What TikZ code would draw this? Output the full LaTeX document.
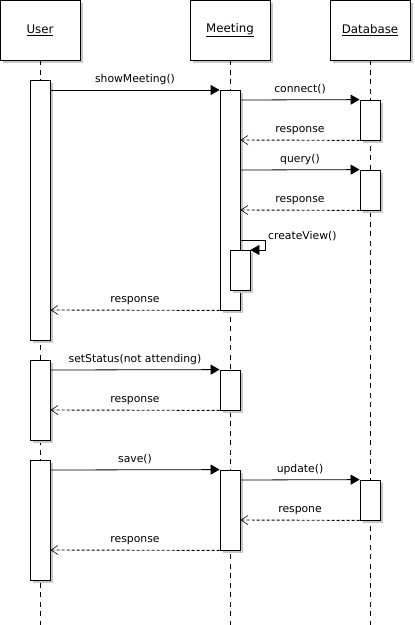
\documentclass[tikz,border=0pt]{standalone}
\usepackage{fontspec}
\setmainfont{DejaVu Sans}
\usetikzlibrary{arrows.meta,shadows}
\definecolor{shade}{HTML}{C8C8C8}
\tikzset{
  x=1pt, y=-1pt,
  every node/.style={font=\fontsize{10.8}{13}\selectfont},
  sh/.style={drop shadow={shadow xshift=3pt, shadow yshift=-3pt, fill=shade, opacity=1}},
  header/.style={draw, fill=white, sh, minimum width=80pt, minimum height=60pt, inner sep=0pt, line width=0.8pt, font=\fontsize{11.8}{14}\selectfont},
  act/.style={draw, fill=white, sh, minimum width=20pt, inner sep=0pt, line width=0.8pt},
  lifeline/.style={line width=0.8pt, dash pattern=on 5pt off 4.5pt},
  msg/.style={line width=0.8pt, -{Triangle[length=9pt, width=10pt]}},
  reply/.style={line width=0.9pt, dash pattern=on 3pt off 2pt, -{Straight Barb[length=7pt, width=9pt, line width=0.6pt]}},
  lbl/.style={inner sep=0pt, anchor=base}
}
\begin{document}
\begin{tikzpicture}
\useasboundingbox (0,0) rectangle (415,625);

% participants
\node[header] (user) at (40,30) {\underline{User}};
\node[header] (meet) at (230,30) {\underline{Meeting}};
\node[header] (db)   at (370,30) {\underline{Database}};

% lifelines
\coordinate (uend) at (40,625);
\coordinate (mend) at (230,625);
\coordinate (dend) at (370,625);
\draw[lifeline] (user.south) -- (uend);
\draw[lifeline] (meet.south) -- (mend);
\draw[lifeline] (db.south) -- (dend);

% activations
\node[act, minimum height=260pt] (u1) at (40,210) {};
\node[act, minimum height=220pt] (m1) at (230,200) {};
\node[act, minimum height=40pt]  (d1) at (370,120) {};
\node[act, minimum height=40pt]  (d2) at (370,190) {};
\node[act, minimum height=40pt]  (mv) at (240,270) {};

\node[act, minimum height=80pt]  (u2) at (40,400) {};
\node[act, minimum height=40pt]  (m2) at (230,390) {};

\node[act, minimum height=120pt] (u3) at (40,520) {};
\node[act, minimum height=80pt]  (m3) at (230,510) {};
\node[act, minimum height=40pt]  (d3) at (370,500) {};

% first interaction: showMeeting
\draw[msg] (u1.east |- 0,90) -- node[lbl, above=5pt] {showMeeting()} (m1.west |- 0,90);
\draw[msg] (m1.east |- 0,100) -- node[lbl, above=5pt] {connect()} (d1.north west);
\draw[reply] (d1.south west) -- node[lbl, above=5pt] {response} (m1.east |- 0,140);
\draw[msg] (m1.east |- 0,170) -- node[lbl, above=5pt] {query()} (d2.north west);
\draw[reply] (d2.south west) -- node[lbl, above=5pt] {response} (m1.east |- 0,210);
\coordinate (cvturn) at (265,240);
\draw[msg] (m1.east |- 0,240) -- (cvturn) |- (mv.east |- 0,250);
\node[lbl, anchor=base west] (cvlbl) at (268,239) {createView()};
\draw[reply] (m1.south west) -- node[lbl, above=5pt] {response} (u1.east |- 0,310);

% second interaction: setStatus
\draw[msg] (u2.east |- 0,370) -- node[lbl, above=5pt] {setStatus(not attending)} (m2.north west);
\draw[reply] (m2.south west) -- node[lbl, above=5pt] {response} (u2.east |- 0,410);

% third interaction: save
\draw[msg] (u3.east |- 0,470) -- node[lbl, above=5pt] {save()} (m3.north west);
\draw[msg] (m3.east |- 0,480) -- node[lbl, above=5pt] {update()} (d3.north west);
\draw[reply] (d3.south west) -- node[lbl, above=5pt] {respone} (m3.east |- 0,520);
\draw[reply] (m3.south west) -- node[lbl, above=5pt] {response} (u3.east |- 0,550);
\end{tikzpicture}
\end{document}
